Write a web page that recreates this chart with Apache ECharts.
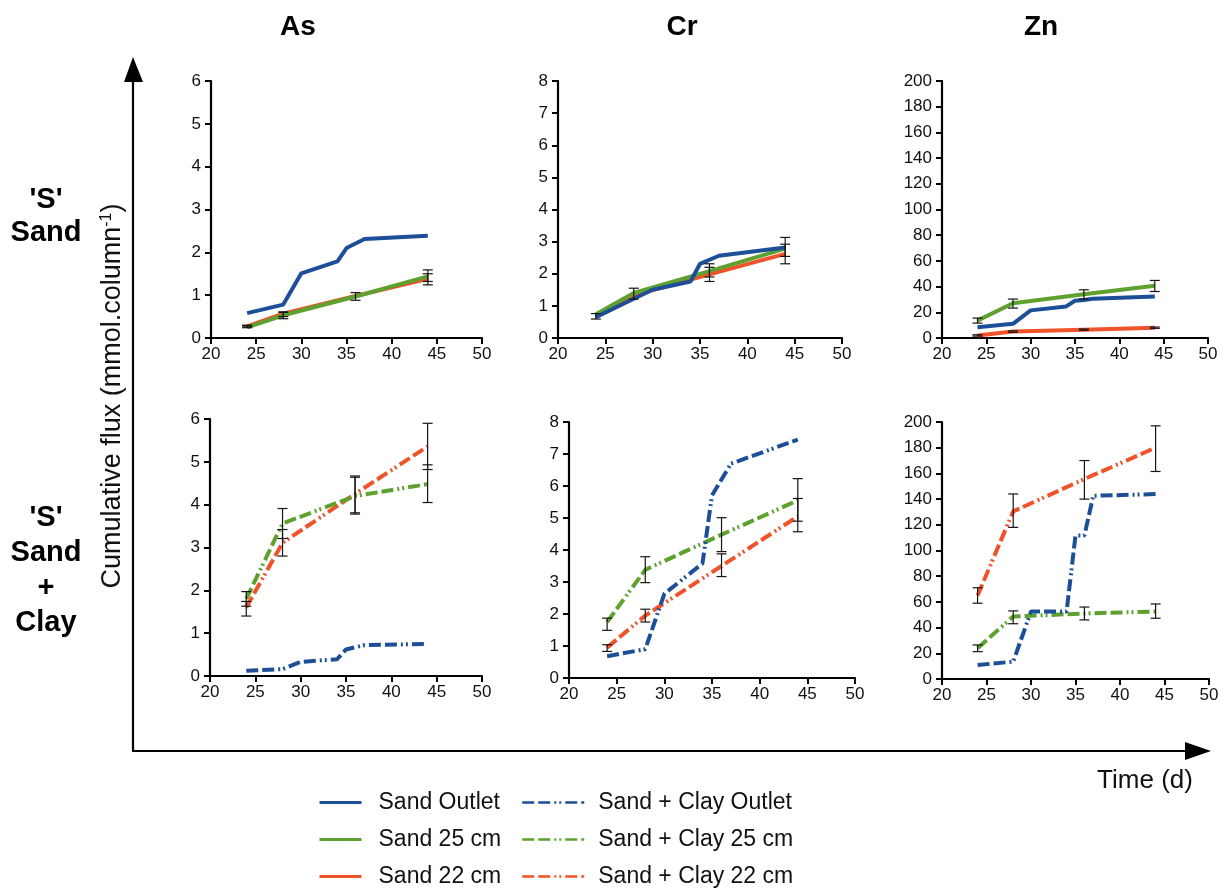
<!DOCTYPE html>
<html>
<head>
<meta charset="utf-8">
<title>Cumulative flux</title>
<script src="https://cdn.jsdelivr.net/npm/echarts@6/dist/echarts.min.js"></script>
<style>
html, body { margin: 0; padding: 0; background: #fff; }
#chart { width: 1229px; height: 892px; }
</style>
</head>
<body>
<div id="chart"></div>
<script>
// ---------------------------------------------------------
// Data
// ---------------------------------------------------------
var elements = ['As', 'Cr', 'Zn'];
var yMax = [6, 8, 200];
var yStep = [1, 1, 20];
var xMin = 20, xMax = 50, xStep = 5;

// sampling days
var daysPort = [24, 28, 36, 44];
var daysOutlet = [24, 28, 30, 34, 35, 37, 44];
var daysOutletZn = [24, 28, 30, 34, 35, 36, 37, 44];

// 'S' Sand
var asSandOutlet = [0.58, 0.78, 1.51, 1.79, 2.10, 2.31, 2.39];
var asSand25 = [0.25, 0.53, 0.97, 1.44];
var asSand22 = [0.27, 0.57, 0.98, 1.38];
var crSandOutlet = [0.65, 1.22, 1.50, 1.76, 2.31, 2.56, 2.82];
var crSand25 = [0.74, 1.40, 2.08, 2.78];
var crSand22 = [0.68, 1.33, 1.98, 2.62];
var znSandOutlet = [8.3, 11, 21.5, 24.6, 29, 29.5, 30.5, 32.3];
var znSand25 = [13.5, 27, 34, 40.6];
var znSand22 = [2, 5, 6.5, 8];

// 'S' Sand + Clay
var asClayOutlet = [0.12, 0.16, 0.33, 0.39, 0.62, 0.72, 0.75];
var asClay25 = [1.80, 3.56, 4.20, 4.48];
var asClay22 = [1.60, 3.11, 4.25, 5.36];
var crClayOutlet = [0.68, 0.90, 2.63, 3.58, 5.71, 6.70, 7.45];
var crClay25 = [1.75, 3.38, 4.48, 5.55];
var crClay22 = [0.95, 1.95, 3.50, 5.05];
var znClayOutlet = [10.9, 13.5, 52.5, 52.5, 111.7, 111.7, 142.6, 143.9];
var znClay25 = [24, 48.6, 51, 52.5];
var znClay22 = [65, 130.4, 155.6, 180];

// error bars: [day, low, high]
var asSandErr = [[24, 0.24, 0.29], [24, 0.26, 0.30], [28, 0.45, 0.60], [28, 0.50, 0.61], [36, 0.88, 1.06], [44, 1.32, 1.59], [44, 1.24, 1.50]];
var crSandErr = [[24, 0.59, 0.76], [28, 1.21, 1.55], [36, 1.90, 2.31], [36, 1.76, 2.20], [44, 2.54, 3.13], [44, 2.31, 2.92]];
var znSandErr = [[24, 11.6, 15.5], [24, 1.5, 2.5], [28, 23.3, 30.3], [28, 4.5, 5.5], [36, 30.3, 37.5], [36, 6, 7], [44, 36.2, 44.8], [44, 7.5, 8.5]];
var asClayErr = [[24, 1.63, 1.97], [24, 1.40, 1.74], [28, 3.21, 3.91], [28, 2.80, 3.42], [36, 3.78, 4.64], [36, 3.81, 4.67], [44, 4.82, 5.90], [44, 4.05, 4.93]];
var crClayErr = [[24, 1.49, 1.87], [24, 0.83, 1.04], [28, 2.98, 3.79], [28, 1.75, 2.15], [36, 3.95, 5.01], [36, 3.17, 3.88], [44, 4.90, 6.23], [44, 4.57, 5.61]];
var znClayErr = [[24, 59, 71], [24, 21.3, 26.5], [28, 118, 144], [28, 43, 53], [36, 140, 170], [36, 46, 56], [44, 161.5, 197], [44, 47.3, 58.4]];

var sandNames = ['Sand Outlet', 'Sand 25 cm', 'Sand 22 cm'];
var clayNames = ['Sand + Clay Outlet', 'Sand + Clay 25 cm', 'Sand + Clay 22 cm'];

// ---------------------------------------------------------
// Layout / styles
// ---------------------------------------------------------
var FONT = "'Liberation Sans', Arial, sans-serif";
var colors = ['#1c4f97', '#5ea12f', '#f0522a'];
var dashPattern = [12, 4, 12, 4, 2, 3, 2, 4];

var grids = [
    { left: 211, top: 81, width: 271, height: 257 },
    { left: 558, top: 81, width: 284, height: 257 },
    { left: 942, top: 81, width: 266, height: 257 },
    { left: 210, top: 419, width: 272, height: 257 },
    { left: 569, top: 422, width: 286, height: 256 },
    { left: 942, top: 422, width: 267, height: 257 }
];

var panels = [
    { outlet: asSandOutlet, d25: asSand25, d22: asSand22, outDays: daysOutlet, err: asSandErr, names: sandNames, dashed: false },
    { outlet: crSandOutlet, d25: crSand25, d22: crSand22, outDays: daysOutlet, err: crSandErr, names: sandNames, dashed: false },
    { outlet: znSandOutlet, d25: znSand25, d22: znSand22, outDays: daysOutletZn, err: znSandErr, names: sandNames, dashed: false },
    { outlet: asClayOutlet, d25: asClay25, d22: asClay22, outDays: daysOutlet, err: asClayErr, names: clayNames, dashed: true },
    { outlet: crClayOutlet, d25: crClay25, d22: crClay22, outDays: daysOutlet, err: crClayErr, names: clayNames, dashed: true },
    { outlet: znClayOutlet, d25: znClay25, d22: znClay22, outDays: daysOutletZn, err: znClayErr, names: clayNames, dashed: true }
];

function pairs(days, vals) {
    return days.map(function (d, i) { return [d, vals[i]]; });
}

function renderErr(params, api) {
    var x = api.value(0);
    var lo = api.coord([x, api.value(1)]);
    var hi = api.coord([x, api.value(2)]);
    var w = 5;
    var st = { stroke: '#151515', lineWidth: 1.2 };
    return {
        type: 'group',
        children: [
            { type: 'line', shape: { x1: lo[0], y1: lo[1], x2: hi[0], y2: hi[1] }, style: st },
            { type: 'line', shape: { x1: lo[0] - w, y1: lo[1], x2: lo[0] + w, y2: lo[1] }, style: st },
            { type: 'line', shape: { x1: hi[0] - w, y1: hi[1], x2: hi[0] + w, y2: hi[1] }, style: st }
        ]
    };
}

var xAxes = [], yAxes = [], series = [];

panels.forEach(function (p, i) {
    var col = i % 3;
    xAxes.push({
        gridIndex: i, type: 'value', min: xMin, max: xMax, interval: xStep,
        axisLine: { show: true, lineStyle: { color: '#000', width: 2.2 } },
        axisTick: { show: true, length: 6, lineStyle: { color: '#000', width: 2 } },
        axisLabel: { color: '#111', fontSize: 17, fontFamily: FONT, margin: 8 },
        splitLine: { show: false }
    });
    yAxes.push({
        gridIndex: i, type: 'value', min: 0, max: yMax[col], interval: yStep[col],
        axisLine: { show: true, lineStyle: { color: '#000', width: 2.2 } },
        axisTick: { show: true, length: 6, lineStyle: { color: '#000', width: 2 } },
        axisLabel: { color: '#111', fontSize: 17, fontFamily: FONT, margin: 10 },
        splitLine: { show: false }
    });

    var lines = [
        { days: p.outDays, vals: p.outlet },
        { days: daysPort, vals: p.d25 },
        { days: daysPort, vals: p.d22 }
    ];
    // draw order: 22 cm, 25 cm, outlet on top
    [2, 1, 0].forEach(function (k) {
        series.push({
            type: 'line',
            name: p.names[k],
            xAxisIndex: i, yAxisIndex: i,
            data: pairs(lines[k].days, lines[k].vals),
            symbol: 'none',
            smooth: false,
            color: colors[k],
            lineStyle: { color: colors[k], width: 4, type: p.dashed ? dashPattern : 'solid', cap: 'butt' },
            z: 3 + (k === 0 ? 2 : (k === 1 ? 1 : 0)),
            animation: false
        });
    });
    series.push({
        type: 'custom',
        name: 'err' + i,
        xAxisIndex: i, yAxisIndex: i,
        data: p.err,
        encode: { x: 0, y: [1, 2] },
        renderItem: renderErr,
        z: 10,
        silent: true,
        animation: false
    });
});

var legendText = { fontSize: 23, fontFamily: FONT, color: '#111' };

var option = {
    backgroundColor: '#fff',
    animation: false,
    grid: grids,
    xAxis: xAxes,
    yAxis: yAxes,
    series: series,
    legend: [
        {
            orient: 'vertical', left: 318, top: 791, height: 110, padding: 0, itemGap: 14,
            itemWidth: 42, itemHeight: 14,
            itemStyle: { opacity: 0, borderWidth: 0 },
            lineStyle: { width: 3 },
            data: sandNames, textStyle: Object.assign({ padding: [0, 0, 0, 12] }, legendText),
            selectedMode: false
        },
        {
            orient: 'vertical', left: 521, top: 791, height: 110, padding: 0, itemGap: 14,
            itemWidth: 62, itemHeight: 14,
            itemStyle: { opacity: 0, borderWidth: 0 },
            lineStyle: { width: 2.5 },
            data: clayNames, textStyle: Object.assign({ padding: [0, 0, 0, 9] }, legendText),
            selectedMode: false
        }
    ],
    graphic: [
        // column titles
        { type: 'text', x: 298, y: 27, style: { text: 'As', font: 'bold 28px ' + FONT, fill: '#000', textAlign: 'center', textVerticalAlign: 'middle' } },
        { type: 'text', x: 682, y: 27, style: { text: 'Cr', font: 'bold 28px ' + FONT, fill: '#000', textAlign: 'center', textVerticalAlign: 'middle' } },
        { type: 'text', x: 1041, y: 27, style: { text: 'Zn', font: 'bold 28px ' + FONT, fill: '#000', textAlign: 'center', textVerticalAlign: 'middle' } },
        // row labels
        { type: 'text', x: 46, y: 216, style: { text: "'S'\nSand", font: 'bold 29px ' + FONT, lineHeight: 33, fill: '#000', textAlign: 'center', textVerticalAlign: 'middle' } },
        { type: 'text', x: 46, y: 570, style: { text: "'S'\nSand\n+\nClay", font: 'bold 29px ' + FONT, lineHeight: 35, fill: '#000', textAlign: 'center', textVerticalAlign: 'middle' } },
        // y title
        {
            type: 'text', x: 113, y: 396, rotation: Math.PI / 2,
            style: {
                text: 'Cumulative flux (mmol.column{sup|-1})',
                font: '27px ' + FONT, fill: '#111', textAlign: 'center', textVerticalAlign: 'middle',
                rich: { sup: { fontSize: 16, fontFamily: FONT, padding: [0, 0, 13, 0], fill: '#111' } }
            }
        },
        // big axes with arrows
        { type: 'line', shape: { x1: 133, y1: 75, x2: 133, y2: 751 }, style: { stroke: '#000', lineWidth: 2.2 } },
        { type: 'polygon', shape: { points: [[133, 57], [124, 82], [143, 82]] }, style: { fill: '#000' } },
        { type: 'line', shape: { x1: 132, y1: 751, x2: 1190, y2: 751 }, style: { stroke: '#000', lineWidth: 2.2 } },
        { type: 'polygon', shape: { points: [[1211, 751], [1185, 742], [1185, 760]] }, style: { fill: '#000' } },
        { type: 'text', x: 1145, y: 781, style: { text: 'Time (d)', font: '26px ' + FONT, fill: '#111', textAlign: 'center', textVerticalAlign: 'middle' } }
    ]
};

var myChart = echarts.init(document.getElementById('chart'), null, { renderer: 'canvas' });
myChart.setOption(option);
</script>
</body>
</html>
